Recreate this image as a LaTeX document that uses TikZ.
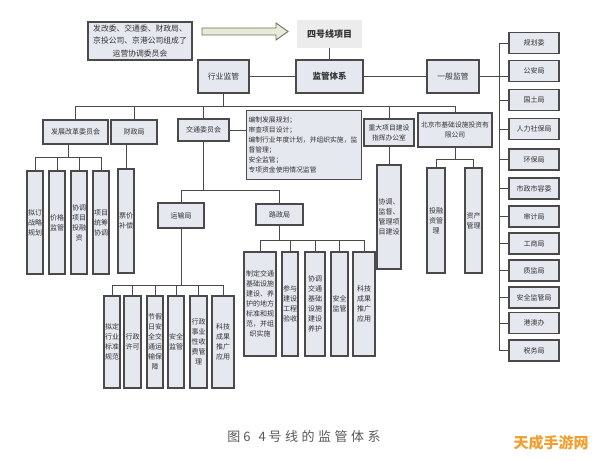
\documentclass[tikz,border=0pt]{standalone}
\usepackage{fontspec}
\setmainfont{Noto Sans CJK SC}
\usetikzlibrary{calc}
\definecolor{boxfill}{HTML}{E6E8F0}
\definecolor{boxline}{HTML}{4A4A4A}
\definecolor{txt}{HTML}{333333}
\definecolor{arrfill}{HTML}{E9EBD8}
\definecolor{arrline}{HTML}{6E6E60}
\definecolor{projfill}{HTML}{ECECEC}
\definecolor{wm}{HTML}{F0A030}
\begin{document}
\begin{tikzpicture}[x=1pt,y=-1pt,
  bx/.style={draw=boxline, fill=boxfill, line width=1.1pt, inner sep=1pt, align=center, text=txt, font=\fontsize{7}{10}\selectfont},
  cbox/.style={bx, minimum width=#1},
  rbox/.style={bx, minimum width=50pt, minimum height=21pt},
  ln/.style={draw=boxline, line width=0.9pt}]
\useasboundingbox[fill=white] (0,0) rectangle (596,462);

% top-left box and arrow
\node[bx, minimum width=104pt, minimum height=38pt, font=\fontsize{7.8}{12.5}\selectfont] (top) at (140,41) {发改委、交通委、财政局、\\京投公司、京港公司组成了\\运营协调委员会};
\draw[fill=arrfill, draw=arrline, line width=0.9pt] (202,28) -- (276,28) -- (276,23) -- (288,31.5) -- (276,40) -- (276,35) -- (202,35) -- cycle;

% top level
\node[fill=projfill, minimum width=65pt, minimum height=28pt, text=txt, font=\bfseries\fontsize{9}{11}\selectfont] (proj) at (329.5,34) {四号线项目};
\node[bx, minimum width=67pt, minimum height=33pt, font=\bfseries\fontsize{8.5}{10}\selectfont] (jg) at (329.5,76.5) {监管体系};
\node[bx, minimum width=51pt, minimum height=33pt, font=\fontsize{7.8}{10}\selectfont] (hy) at (223.5,76.5) {行业监管};
\node[bx, minimum width=52pt, minimum height=33pt, font=\fontsize{7.8}{10}\selectfont] (yb) at (453,76.5) {一般监管};
\draw[ln] (proj) -- (jg);
\draw[ln] (hy) -- (jg);
\draw[ln] (jg) -- (yb);

% second level
\coordinate (bar1) at (0,106);
\node[bx, minimum width=65pt, minimum height=24pt] (fg) at (75.5,132) {发展改革委员会};
\node[bx, minimum width=46pt, minimum height=24pt] (cz) at (134,132) {财政局};
\node[bx, minimum width=51pt, minimum height=22pt] (jt) at (203.5,130) {交通委员会};
\node[bx, minimum width=50pt, minimum height=27pt, font=\fontsize{6.8}{10}\selectfont] (zd) at (389,132.5) {重大项目建设\\指挥办公室};
\node[bx, minimum width=74pt, minimum height=34pt, font=\fontsize{6.8}{10}\selectfont] (bj) at (455,130) {北京市基础设施投资有\\限公司};
\node[bx, anchor=north west, align=left, text width=111pt, inner xsep=2pt, minimum height=69pt, font=\fontsize{6.8}{10}\selectfont] (notes) at (246,110) {编制发展规划；\\审查项目设计；\\编制行业年度计划，并组织实施，监\\督管理；\\安全监管；\\专项资金使用情况监管};
\draw[ln] (hy.south) -- (hy.south |- bar1);
\draw[ln] (fg.north |- bar1) -- (bj.north |- bar1);
\foreach \n in {fg,cz,jt,zd,bj} \draw[ln] (\n.north) -- (\n.north |- bar1);
\draw[ln] (jt.east) -- (jt.east -| notes.west);

% children of 发展改革委员会
\coordinate (bar6) at (0,157);
\node[cbox=16pt, minimum height=103pt] (f1) at (35,222.5) {拟订\\战略\\规划};
\node[cbox=16pt, minimum height=103pt] (f2) at (57,222.5) {价格\\监管};
\node[cbox=16pt, minimum height=103pt] (f3) at (79,222.5) {协调\\项目\\投融\\资};
\node[cbox=16pt, minimum height=103pt] (f4) at (101,222.5) {项目\\统筹\\协调};
\draw[ln] ($(fg.south)+(-7,0)$) -- ($(fg.south |- bar6)+(-7,0)$);
\draw[ln] (f1.north |- bar6) -- (f4.north |- bar6);
\foreach \n in {f1,f2,f3,f4} \draw[ln] (\n.north) -- (\n.north |- bar6);

% child of 财政局
\node[cbox=16pt, minimum height=104pt] (cc) at (126,221) {票价\\补偿};
\draw[ln] (cc.north) -- (cc.north |- cz.south);

% 运输局 / 路政局
\coordinate (bar2) at (0,190);
\node[bx, minimum width=46pt, minimum height=25pt] (ys) at (181,215.5) {运输局};
\node[bx, minimum width=47pt, minimum height=21pt] (lz) at (279.5,214.5) {路政局};
\draw[ln] (jt.south) -- (jt.south |- bar2);
\draw[ln] (ys.north) -- (ys.north |- bar2) -- (lz.north |- bar2) -- (lz.north);

% children of 运输局
\coordinate (bar3) at (0,285);
\node[cbox=16pt, minimum height=92pt] (y1) at (112,342) {拟定\\行业\\标准\\规范};
\node[cbox=17pt, minimum height=92pt] (y2) at (132.5,342) {行政\\许可};
\node[cbox=16pt, minimum height=92pt] (y3) at (155,342) {节假\\日安\\全交\\通运\\输保\\障};
\node[cbox=16pt, minimum height=92pt] (y4) at (176,342) {安全\\监管};
\node[cbox=17pt, minimum height=92pt] (y5) at (198.5,342) {行政\\事业\\性收\\费管\\理};
\node[cbox=22pt, minimum height=92pt] (y6) at (223,342) {科技\\成果\\推广\\应用};
\draw[ln] (ys.south) -- (ys.south |- bar3);
\draw[ln] (y1.north |- bar3) -- (y6.north |- bar3);
\foreach \n in {y1,y2,y3,y4,y5,y6} \draw[ln] (\n.north) -- (\n.north |- bar3);

% children of 路政局
\coordinate (bar4) at (0,240);
\node[cbox=32pt, minimum height=104pt] (l1) at (260,304) {制定交通\\基础设施\\建设、养\\护的地方\\标准和规\\范，并组\\织实施};
\node[cbox=16pt, minimum height=104pt] (l2) at (290,304) {参与\\建设\\工程\\验收};
\node[cbox=20pt, minimum height=104pt] (l3) at (315,304) {协调\\交通\\基础\\设施\\建设\\养护};
\node[cbox=17pt, minimum height=104pt] (l4) at (339.5,304) {安全\\监管};
\node[cbox=22pt, minimum height=104pt] (l5) at (364,304) {科技\\成果\\推广\\应用};
\draw[ln] (lz.south) -- (lz.south |- bar4);
\draw[ln] (l1.north |- bar4) -- (l5.north |- bar4);
\foreach \n in {l1,l2,l3,l4,l5} \draw[ln] (\n.north) -- (\n.north |- bar4);

% child of 重大项目
\node[cbox=24pt, minimum height=104pt] (zc) at (389,217) {协调、\\监督、\\管理项\\目建设};
\draw[ln] (zd.south) -- (zc.north);

% children of 北京市基础设施
\coordinate (bar5) at (0,159);
\node[cbox=18pt, minimum height=105pt] (b1) at (436,220.5) {投融\\资管\\理};
\node[cbox=17pt, minimum height=105pt] (b2) at (473.5,220.5) {资产\\管理};
\draw[ln] (bj.south) -- (bj.south |- bar5);
\draw[ln] (b1.north |- bar5) -- (b2.north |- bar5);
\foreach \n in {b1,b2} \draw[ln] (\n.north) -- (\n.north |- bar5);

% right column
\coordinate (rx) at (499,0);
\node[rbox] (r1) at (534,43) {规划委};
\node[rbox] (r2) at (534,71) {公安局};
\node[rbox] (r3) at (534,100) {国土局};
\node[rbox] (r4) at (534,129) {人力社保局};
\node[rbox] (r5) at (534,159.5) {环保局};
\node[rbox] (r6) at (534,188.5) {市政市容委};
\node[rbox] (r7) at (534,216.5) {审计局};
\node[rbox] (r8) at (534,243.5) {工商局};
\node[rbox] (r9) at (534,270.5) {质监局};
\node[rbox] (r10) at (534,297.5) {安全监管局};
\node[rbox] (r11) at (534,323) {港澳办};
\node[rbox] (r12) at (534,350.5) {税务局};
\draw[ln] (r1.west -| rx) -- (r12.west -| rx);
\foreach \n in {r1,r3,r4,r5,r6,r7,r8,r9,r10,r11,r12} \draw[ln] (\n.west) -- (\n.west -| rx);
\draw[ln] (yb.east) -- (yb.east -| r2.west);

% caption and watermark
\node[text=black!65, font=\fontsize{13}{15}\selectfont] (cap) at (304,437) {图\hspace{3pt}6\hspace{8pt}4\hspace{3pt}号\hspace{3.5pt}线\hspace{3.5pt}的\hspace{3.5pt}监\hspace{3.5pt}管\hspace{3.5pt}体\hspace{3.5pt}系};
\node[text=wm, font=\bfseries\fontsize{15}{17}\selectfont] (wmk) at (551,443) {天成手游网};
\end{tikzpicture}
\end{document}
